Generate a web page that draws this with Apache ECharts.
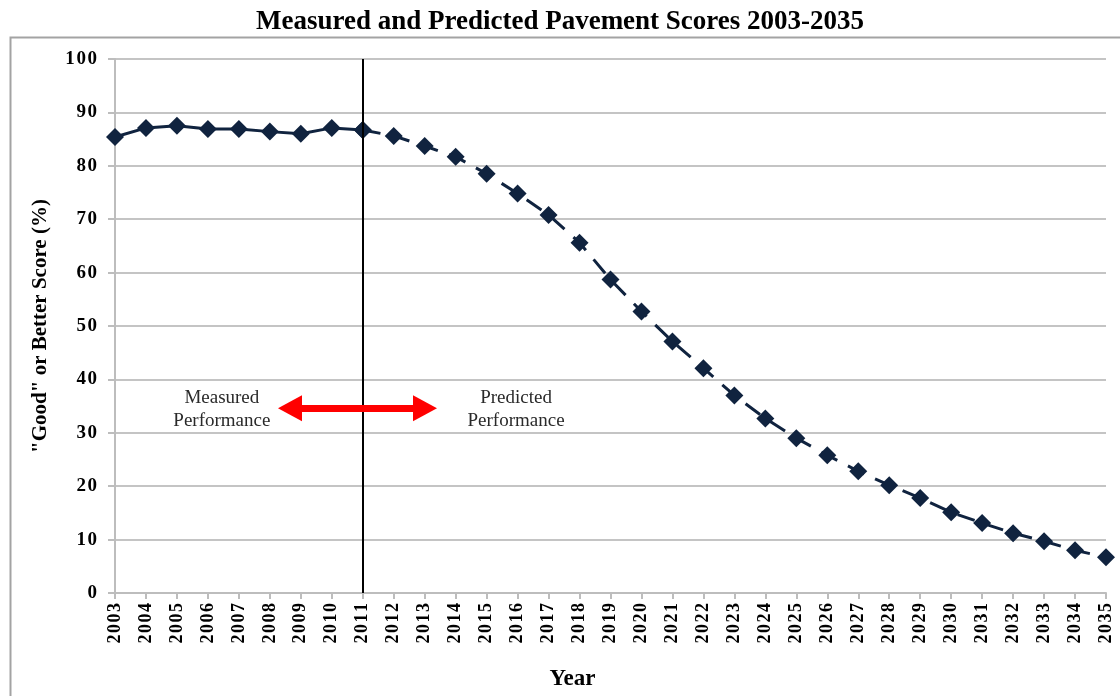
<!DOCTYPE html>
<html>
<head>
<meta charset="utf-8">
<script src="https://cdn.jsdelivr.net/npm/echarts@6/dist/echarts.min.js"></script>
<style>
html, body { margin: 0; padding: 0; background: #fff; }
#myChart { width: 1120px; height: 696px; }
</style>
</head>
<body>
<div id="myChart"></div>
<script>
// years on the x axis
const years = [2003, 2004, 2005, 2006, 2007, 2008, 2009, 2010, 2011, 2012, 2013,
  2014, 2015, 2016, 2017, 2018, 2019, 2020, 2021, 2022, 2023, 2024, 2025,
  2026, 2027, 2028, 2029, 2030, 2031, 2032, 2033, 2034, 2035]
// "good" or better score, %
const scores = [85.4, 87.1, 87.5, 86.9, 86.9, 86.4, 86.0, 87.1, 86.7, 85.6, 83.7,
  81.7, 78.5, 74.8, 70.8, 65.6, 58.7, 52.7, 47.1, 42.1, 37.0, 32.7, 29.0,
  25.8, 22.8, 20.2, 17.8, 15.1, 13.1, 11.2, 9.7, 8.0, 6.7]
const splitYear = 2011
// red arrow and its two labels (data coords)
const arrowFrom = [2008.65, 34.6]
const arrowTo = [2013.01, 34.6]
const leftNote = [2006.45, 34.4]
const rightNote = [2015.95, 34.4]

const splitIdx = years.indexOf(splitYear)
const measured = years.slice(0, splitIdx + 1).map((y, i) => [y, scores[i]])
const predicted = years.slice(splitIdx).map((y, i) => [y, scores[splitIdx + i]])

const navy = '#10233f'
const serif = '"Liberation Serif", "Times New Roman", serif'
// the original spreads the digits of its tick labels a little
const spaced = v => String(v).split('').join('\u200a')

let myChart = echarts.init(document.getElementById('myChart'))
myChart.setOption({
  animation: false,
  textStyle: { fontFamily: serif },
  title: {
    text: 'Measured and Predicted Pavement Scores 2003-2035',
    left: 'center',
    top: 4,
    padding: [5, 5, 5, 21],
    textStyle: { fontFamily: serif, fontSize: 27, fontWeight: 'bold', color: '#000' },
  },
  // outer chart frame
  graphic: [
    {
      type: 'rect',
      left: 8,
      top: 35,
      shape: { width: 1200, height: 700 },
      style: { fill: 'none', stroke: '#a3a3a3', lineWidth: 2 },
      silent: true,
    },
  ],
  grid: { left: 115, right: 14, top: 59, bottom: 102 },
  xAxis: {
    type: 'value',
    min: 2003,
    max: 2035,
    interval: 1,
    name: 'Year',
    nameLocation: 'middle',
    nameGap: 75,
    nameTextStyle: {
      fontFamily: serif, fontSize: 23, fontWeight: 'bold', color: '#000',
      padding: [0, 76, 0, 0],
    },
    axisLine: { show: true, lineStyle: { color: '#bdbdbd', width: 2 } },
    axisTick: { show: true, length: 6, lineStyle: { color: '#bdbdbd', width: 2 } },
    splitLine: { show: false },
    axisLabel: {
      rotate: 90,
      margin: 10,
      formatter: spaced,
      fontFamily: serif,
      fontSize: 18,
      fontWeight: 'bold',
      color: '#000',
    },
  },
  yAxis: {
    type: 'value',
    min: 0,
    max: 100,
    interval: 10,
    name: '"Good" or Better Score (%)',
    nameLocation: 'middle',
    nameGap: 64,
    nameTextStyle: { fontFamily: serif, fontSize: 21, fontWeight: 'bold', color: '#000' },
    axisLine: { show: true, lineStyle: { color: '#bdbdbd', width: 2 } },
    axisTick: { show: true, length: 7, lineStyle: { color: '#bdbdbd', width: 2 } },
    splitLine: { show: true, lineStyle: { color: '#c4c4c4', width: 2 } },
    axisLabel: {
      margin: 18,
      formatter: spaced,
      fontFamily: serif,
      fontSize: 19,
      fontWeight: 'bold',
      color: '#000',
    },
  },
  series: [
    {
      name: 'Measured',
      type: 'line',
      data: measured,
      symbol: 'diamond',
      symbolSize: 18,
      itemStyle: { color: navy },
      lineStyle: { color: navy, width: 3 },
      z: 3,
    },
    {
      name: 'Predicted',
      type: 'line',
      data: predicted,
      symbol: 'diamond',
      symbolSize: 18,
      itemStyle: { color: navy },
      lineStyle: { color: navy, width: 3, type: [18, 12] },
      z: 3,
      markLine: {
        silent: true,
        symbol: 'none',
        label: { show: false },
        lineStyle: { color: '#000', width: 2, type: 'solid' },
        data: [{ xAxis: splitYear }],
        z: 5,
      },
    },
    {
      name: 'Annotation',
      type: 'line',
      data: [],
      z: 2,
      markLine: {
        silent: true,
        symbol: ['triangle', 'triangle'],
        symbolSize: [26, 24],
        label: { show: false },
        lineStyle: { color: '#ff0000', width: 7, type: 'solid' },
        itemStyle: { color: '#ff0000' },
        data: [[{ coord: arrowFrom }, { coord: arrowTo }]],
      },
      markPoint: {
        silent: true,
        symbol: 'circle',
        symbolSize: 0,
        label: {
          show: true,
          position: 'inside',
          fontFamily: serif,
          fontSize: 19,
          lineHeight: 23,
          color: '#2a2a2a',
          align: 'center',
        },
        data: [
          { coord: leftNote, value: 'Measured\nPerformance', label: { formatter: 'Measured\nPerformance' } },
          { coord: rightNote, value: 'Predicted\nPerformance', label: { formatter: 'Predicted\nPerformance' } },
        ],
      },
    },
  ],
})
</script>
</body>
</html>
